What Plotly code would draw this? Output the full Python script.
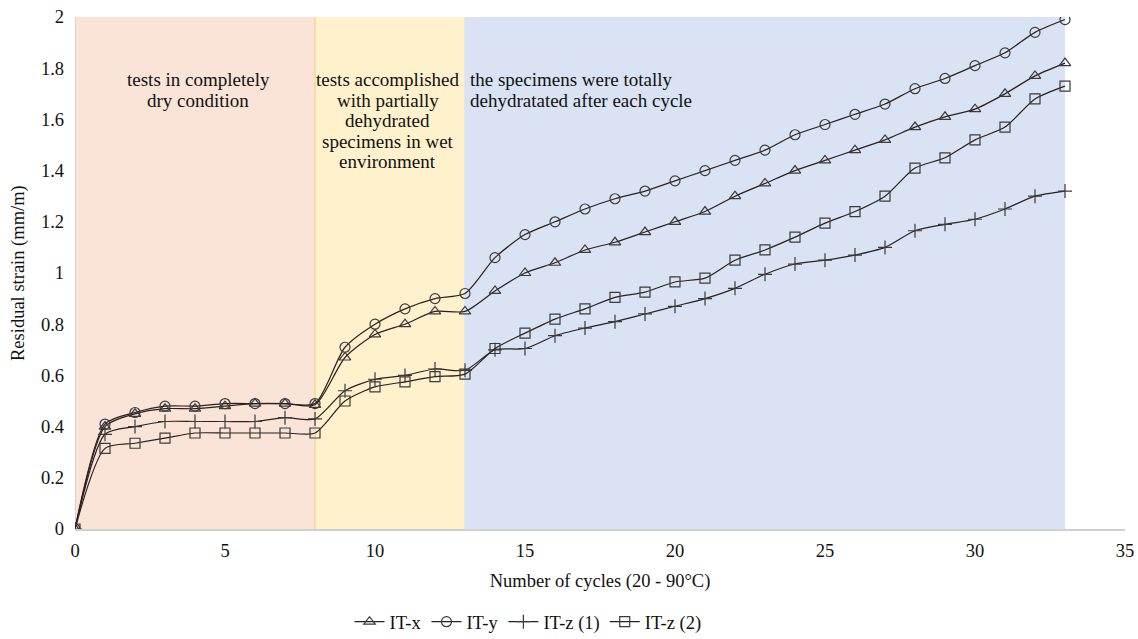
import plotly.graph_objects as go

# Cycle numbers
cycles = list(range(0, 34))

# Residual strain (mm/m) per specimen direction
it_x = [0, 0.40, 0.45, 0.47, 0.47, 0.48, 0.49, 0.49, 0.485,
        0.67, 0.76, 0.80, 0.85, 0.85,
        0.93, 1.00, 1.04, 1.09, 1.12, 1.16, 1.20, 1.24, 1.30, 1.35, 1.40,
        1.44, 1.48, 1.52, 1.57, 1.61, 1.64, 1.70, 1.77, 1.82]
it_y = [0, 0.41, 0.455, 0.48, 0.48, 0.49, 0.49, 0.49, 0.49,
        0.71, 0.80, 0.86, 0.90, 0.92,
        1.06, 1.15, 1.20, 1.25, 1.29, 1.32, 1.36, 1.40, 1.44, 1.48, 1.54,
        1.58, 1.62, 1.66, 1.72, 1.76, 1.81, 1.86, 1.94, 1.99]
it_z1 = [0, 0.37, 0.40, 0.42, 0.42, 0.42, 0.42, 0.435, 0.43,
         0.54, 0.585, 0.60, 0.625, 0.62,
         0.70, 0.705, 0.755, 0.785, 0.81, 0.84, 0.87, 0.90, 0.94, 0.995, 1.035,
         1.05, 1.07, 1.10, 1.165, 1.19, 1.21, 1.25, 1.30, 1.32]
it_z2 = [0, 0.315, 0.335, 0.355, 0.375, 0.375, 0.375, 0.375, 0.375,
         0.50, 0.555, 0.575, 0.595, 0.605,
         0.705, 0.765, 0.82, 0.86, 0.905, 0.925, 0.965, 0.98, 1.05, 1.09, 1.14,
         1.195, 1.24, 1.30, 1.41, 1.45, 1.52, 1.57, 1.68, 1.73]

# Test phases: (start cycle, end cycle, fill, left edge)
phases = [
    (0, 8, "#FAE4D8", "#E6C6B6"),
    (8, 13, "#FFF1CC", "#F5D9A0"),
    (13, 33, "#DAE3F3", "#DAE3F3"),
]
phase_labels = [
    ["tests in completely", "dry condition"],
    ["tests accomplished", "with partially", "dehydrated", "specimens in wet", "environment"],
    ["the specimens were totally", "dehydratated after each cycle"],
]

FONT = "Liberation Serif"
LINE_COLOR = "#2b2020"
MARK_COLOR = "#3a3a3a"

fig = go.Figure()

for x0, x1, fill, edge in phases:
    fig.add_shape(type="rect", xref="x", yref="y", x0=x0, x1=x1, y0=0, y1=2,
                  fillcolor=fill, line=dict(width=0), layer="below")
    fig.add_shape(type="line", xref="x", yref="y", x0=x0, x1=x0, y0=0, y1=2,
                  line=dict(color=edge, width=1.5), layer="below")

series = [
    ("IT-x", it_x, "triangle-up-open"),
    ("IT-y", it_y, "circle-open"),
    ("IT-z (1)", it_z1, "cross-thin-open"),
    ("IT-z (2)", it_z2, "square-open"),
]
for name, vals, sym in series:
    fig.add_trace(go.Scatter(
        x=cycles, y=vals, name=name, mode="lines+markers",
        line=dict(color=LINE_COLOR, width=1.2, shape="spline", smoothing=0.7),
        marker=dict(symbol=sym, size=10, color=MARK_COLOR,
                    line=dict(color=MARK_COLOR, width=1.2)),
    ))

# Phase descriptions, one annotation per text line for tight line spacing
label_pos = [(4.1, "center"), (10.43, "center"), (13.1, "left")]
first_line_y = 1.754
line_step = 0.08
for (xa, align), lines in zip(label_pos, phase_labels):
    for k, line in enumerate(lines):
        fig.add_annotation(x=xa, y=first_line_y - k * line_step, xref="x", yref="y",
                           text=line, showarrow=False,
                           xanchor="center" if align == "center" else "left",
                           yanchor="middle",
                           font=dict(family=FONT, size=19, color="#111111"))

# Vertical axis title
fig.add_annotation(x=-0.0543, y=0.5, xref="paper", yref="paper",
                   text="Residual strain (mm/m)", textangle=-90, showarrow=False,
                   xanchor="center", yanchor="middle",
                   font=dict(family=FONT, size=18.5, color="#111111"))

fig.update_layout(
    width=1138, height=639,
    margin=dict(l=75, r=13, t=17, b=110, autoexpand=False),
    paper_bgcolor="white", plot_bgcolor="white",
    font=dict(family=FONT, size=18.5, color="#111111"),
    showlegend=True,
    legend=dict(orientation="h", xref="container", x=0.464, xanchor="center",
                y=-0.182, yanchor="middle",
                font=dict(family=FONT, size=18.5), itemwidth=30, traceorder="normal"),
)
fig.update_xaxes(range=[0, 35], dtick=5, tick0=0, showgrid=False, zeroline=False,
                 showline=True, linecolor="#D0D0D0", linewidth=1.5, ticks="",
                 ticklabelstandoff=4,
                 title=dict(text="Number of cycles (20 - 90°C)", standoff=14,
                            font=dict(family=FONT, size=18.5)))
fig.update_yaxes(range=[0, 2], dtick=0.2, tick0=0, showgrid=False, zeroline=False,
                 showline=False, ticks="", ticklabelstandoff=10)

fig.write_html("out.html")
